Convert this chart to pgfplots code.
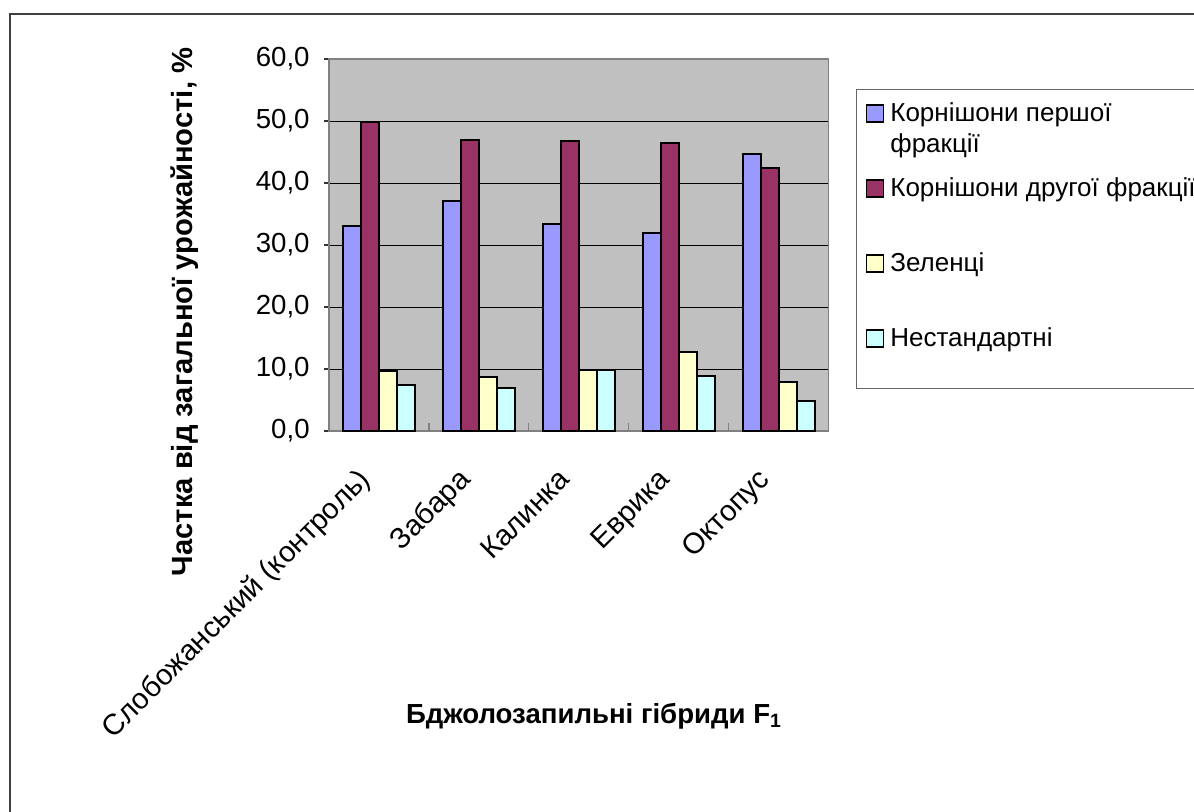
\documentclass[border=0pt]{standalone}
\usepackage{fontspec}
\setmainfont{Liberation Sans}
\usepackage{pgfplots}
\pgfplotsset{compat=1.18}
\definecolor{serA}{HTML}{9999FF}
\definecolor{serB}{HTML}{993366}
\definecolor{serC}{HTML}{FFFFCC}
\definecolor{serD}{HTML}{CCFFFF}
\definecolor{bgGray}{HTML}{C0C0C0}
\begin{document}
\begin{tikzpicture}
\path[use as bounding box] (0,0) rectangle (597pt,405.5pt);
\clip (0,0) rectangle (597pt,405.5pt);
\fill[white] (0,0) rectangle (597pt,405.5pt);
\draw[black!75, line width=0.8pt] (5pt,-20pt) rectangle (620pt,398.5pt);
\begin{axis}[
  at={(164.5pt,190pt)}, anchor=south west,
  scale only axis, width=249.75pt, height=186pt,
  xmin=-0.5, xmax=4.5, ymin=0, ymax=60,
  ybar=0pt, bar width=0.18,
  ytick={0,10,...,60},
  xtick={0,1,2,3,4},
  xticklabels={Слобожанський (контроль),Забара,Калинка,Еврика,Октопус},
  minor xtick={0.5,1.5,2.5,3.5,4.5},
  xtick pos=left, ytick pos=left,
  tick align=outside,
  major tick length=2.5pt, minor tick length=4pt,
  major x tick style={draw=none},
  minor x tick style={draw=black!50, line width=0.6pt, yshift=4pt},
  major y tick style={draw=black!80, line width=0.6pt},
  axis background/.style={fill=bgGray},
  axis line style={draw=black!50, line width=0.8pt},
  ymajorgrids, major grid style={draw=black, line width=0.5pt},
  /pgf/number format/assume math mode=true,
  yticklabel style={/pgf/number format/fixed, /pgf/number format/fixed zerofill, /pgf/number format/precision=1, /pgf/number format/use comma},
  yticklabel style={font=\fontsize{13.8}{16}\selectfont, anchor=east, inner sep=0pt, xshift=-7pt},
  xticklabel style={font=\fontsize{14.6}{17}\selectfont, inner sep=0pt, anchor=base east, xshift=-3.5pt, yshift=-22.5pt, rotate=45},
  xlabel={Бджолозапильні гібриди F\textsubscript{1}},
  ylabel={Частка від загальної урожайності, \%},
  every axis x label/.style={at={(rel axis cs:0.5305,-0.785)}, anchor=base, font=\bfseries\fontsize{13.8}{16}\selectfont},
  every axis y label/.style={at={(rel axis cs:-0.2723,0.3199)}, anchor=base, rotate=90, font=\bfseries\fontsize{14.6}{17}\selectfont},
  legend style={at={(rel axis cs:1.055,0.919)}, anchor=north west, draw=black!60, line width=0.6pt, fill=white,
    inner xsep=4.5pt, inner ysep=4pt, row sep=8.5pt, column sep=3pt,
    font=\fontsize{13}{15.5}\selectfont, nodes={inner sep=0pt, text depth={}}, cells={anchor=base west}},
  legend cell align=left,
  legend image code/.code={\draw[#1, line width=0.9pt] (0pt,2.5pt) rectangle (8.5pt,11pt);},
]
\addplot[fill=serA, draw=black, line width=1pt] coordinates {(0,33.1) (1,37.1) (2,33.4) (3,31.9) (4,44.7)};
\addlegendentry{\raisebox{0pt}[12pt][17pt]{\parbox[t]{240pt}{Корнішони першої\\фракції}}}
\addplot[fill=serB, draw=black, line width=1pt] coordinates {(0,49.8) (1,46.9) (2,46.7) (3,46.4) (4,42.4)};
\addlegendentry{\raisebox{0pt}[12pt][17pt]{Корнішони другої фракції}}
\addplot[fill=serC, draw=black, line width=1pt] coordinates {(0,9.6) (1,8.7) (2,9.8) (3,12.7) (4,7.9)};
\addlegendentry{\raisebox{0pt}[12pt][17pt]{Зеленці}}
\addplot[fill=serD, draw=black, line width=1pt] coordinates {(0,7.4) (1,7.0) (2,9.8) (3,8.9) (4,4.9)};
\addlegendentry{\raisebox{0pt}[12pt][17pt]{Нестандартні}}
\end{axis}
\end{tikzpicture}
\end{document}
